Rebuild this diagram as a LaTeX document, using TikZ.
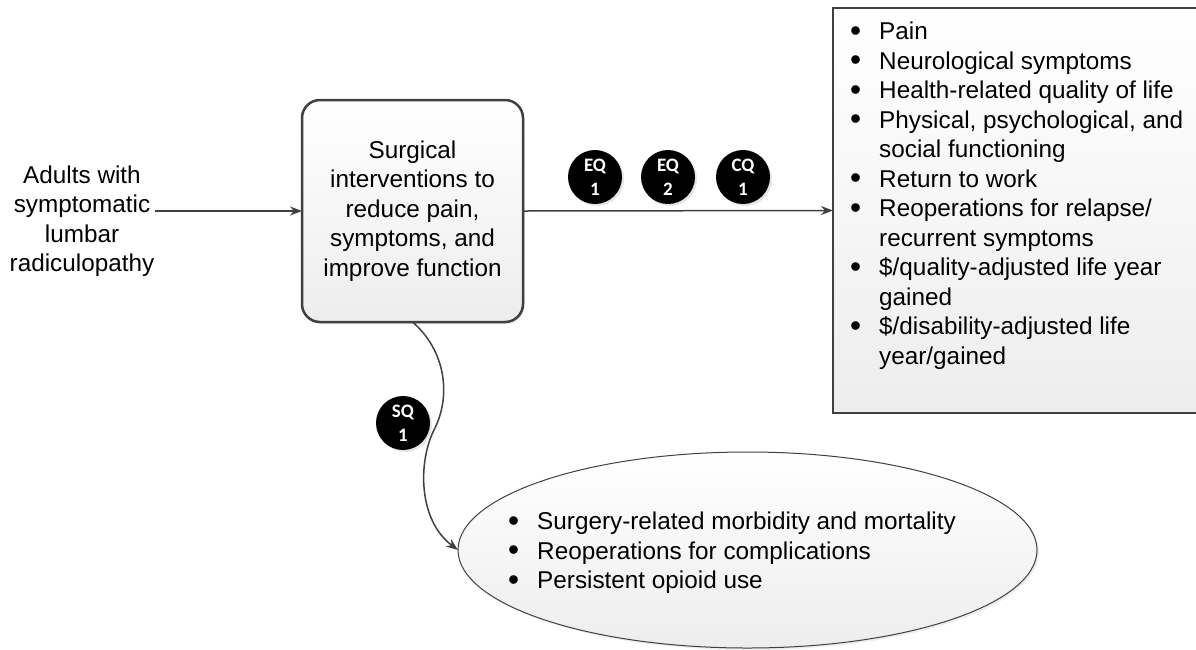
\documentclass[tikz,border=0pt]{standalone}
\usepackage{fontspec}
\usepackage{graphicx}
\setmainfont{Liberation Sans}
\newfontfamily\kqfont{Carlito}
\usetikzlibrary{positioning,shapes.geometric,shadows,arrows.meta}

\definecolor{linegray}{HTML}{404040}
\newcommand{\li}[1]{\makebox[29pt][l]{\smash{\raisebox{-1.5pt}{\scalebox{1.3}{\textbullet}}}}#1}
\newcommand{\cont}[1]{\hspace*{29pt}#1}

\tikzset{
  bigtext/.style={font=\fontsize{24.3}{29.5}\selectfont},
  kq/.style={circle,fill=black,text=white,minimum size=54pt,inner sep=0pt,
    align=center,font=\kqfont\bfseries\fontsize{19}{24}\selectfont,
    drop shadow={shadow xshift=2pt,shadow yshift=-2pt,fill=gray!40}},
  conn/.style={draw=linegray,line width=1.5pt},
  lightfill/.style={top color=white,bottom color=gray!14},
}

\begin{document}
\begin{tikzpicture}[x=1pt,y=-1pt,>={Stealth[length=12pt,width=9pt]}]
	\useasboundingbox (0,0) rectangle (1196,649);

	% population and intervention
	\node[bigtext,align=center,inner sep=1pt] (adults) at (82,221)
		{Adults with\\symptomatic\\lumbar\\radiculopathy};
	\node[rectangle,rounded corners=18pt,draw=linegray,line width=2.5pt,lightfill,
		minimum width=221pt,minimum height=222pt,outer sep=0pt,
		drop shadow={shadow xshift=2pt,shadow yshift=-2pt,fill=gray!30},
		bigtext,align=center] (interv) at (412.5,211)
		{Surgical\\interventions to\\reduce pain,\\symptoms, and\\improve function};

	% outcomes
	\node[rectangle,draw=linegray,line width=2.5pt,lightfill,
		minimum width=380pt,minimum height=405pt,outer sep=0pt] (outbox) at (1023,210.5) {};
	\node[bigtext,align=left,anchor=north west,inner sep=0pt] (outlist) at (850,22)
		{\li{Pain}\\
		 \li{Neurological symptoms}\\
		 \li{Health-related quality of life}\\
		 \li{Physical, psychological, and}\\
		 \cont{social functioning}\\
		 \li{Return to work}\\
		 \li{Reoperations for relapse/}\\
		 \cont{recurrent symptoms}\\
		 \li{\$/quality-adjusted life year}\\
		 \cont{gained}\\
		 \li{\$/disability-adjusted life}\\
		 \cont{year/gained}};

	% harms
	\node[ellipse,draw=linegray,line width=1pt,lightfill,
		minimum width=579pt,minimum height=196pt,outer sep=0pt,
		drop shadow={shadow xshift=2pt,shadow yshift=-2pt,fill=gray!30}] (harms) at (747.5,550) {};
	\node[bigtext,align=left,anchor=north west,inner sep=0pt] (harmlist) at (508,512)
		{\li{Surgery-related morbidity and mortality}\\
		 \li{Reoperations for complications}\\
		 \li{Persistent opioid use}};

	% key questions
	\node[kq] (eq1) at (595,177) {EQ\\1};
	\node[kq] (eq2) [right=73pt of eq1.center,anchor=center] {EQ\\2};
	\node[kq] (cq1) [right=75pt of eq2.center,anchor=center] {CQ\\1};
	\node[kq] (sq1) at (403,423) {SQ\\1};

	\draw[->,conn] (adults.east |- interv.west) -- (interv.west);
	\draw[->,conn] (interv.east) -- (outbox.west);
	\draw[->,conn] (interv.south) .. controls (445,350) and (452,395) .. (434,430)
		.. controls (418,462) and (418,520) .. (harms.west);
\end{tikzpicture}
\end{document}
